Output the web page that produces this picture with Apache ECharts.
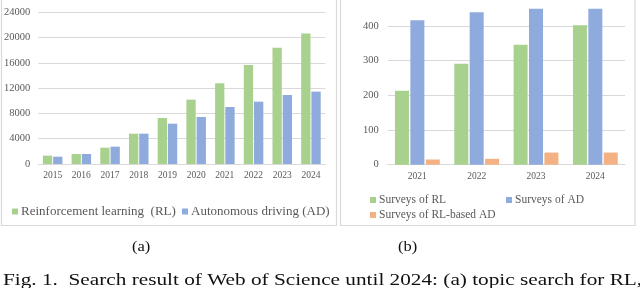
<!DOCTYPE html>
<html>
<head>
<meta charset="utf-8">
<script src="https://cdn.jsdelivr.net/npm/echarts@6/dist/echarts.min.js"></script>
<style>
html,body{margin:0;padding:0;background:#fff;}
#c{width:640px;height:288px;}
</style>
</head>
<body>
<div id="c"></div>
<script>
// Panel (a)
const yearsA = ['2015','2016','2017','2018','2019','2020','2021','2022','2023','2024'];
const rlPapers = [1320, 1580, 2580, 4800, 7280, 10180, 12770, 15670, 18410, 20630];
const adPapers = [1160, 1580, 2740, 4800, 6380, 7440, 9020, 9860, 10920, 11450];
// Panel (b)
const yearsB = ['2021','2022','2023','2024'];
const surveysRL = [213, 291, 346, 402];
const surveysAD = [417, 440, 450, 450];
const surveysRLAD = [15, 17, 35, 35];

const GREEN = '#a9d18e', BLUE = '#8faadc', ORANGE = '#f4b183';
const LBL = '#595959', GRID = '#d9d9d9';
const FONT = 'Liberation Serif';

const chart = echarts.init(document.getElementById('c'), null, {renderer: 'canvas'});

function legendAt(name, left, top, fs) {
  return {
    data: [{name: name, textStyle: {fontFamily: FONT, fontSize: fs, color: LBL}}],
    left: left, top: top, itemWidth: 6, itemHeight: 6, itemGap: 0,
    icon: 'rect', padding: 0,
    textStyle: {fontFamily: FONT, fontSize: fs, color: LBL, padding: [0, 0, 0, -2]},
    selectedMode: false
  };
}

chart.setOption({
  animation: false,
  textStyle: {fontFamily: FONT},
  grid: [
    {left: 38.3, right: 314.7, top: 12.3, bottom: 124},
    {left: 387.7, right: 15, top: 8.7, bottom: 123.3}
  ],
  xAxis: [
    {type: 'category', gridIndex: 0, data: yearsA,
     axisLine: {lineStyle: {color: GRID}}, axisTick: {show: false},
     axisLabel: {color: LBL, fontSize: 9.5, margin: 6, fontFamily: FONT}},
    {type: 'category', gridIndex: 1, data: yearsB,
     axisLine: {lineStyle: {color: GRID}}, axisTick: {show: false},
     axisLabel: {color: LBL, fontSize: 9.5, margin: 7, fontFamily: FONT}}
  ],
  yAxis: [
    {type: 'value', gridIndex: 0, min: 0, max: 24000, interval: 4000,
     axisLine: {show: false}, axisTick: {show: false},
     axisLabel: {color: LBL, fontSize: 10.5, margin: 8, fontFamily: FONT,
                 formatter: function (v) { return String(v); }},
     splitLine: {lineStyle: {color: GRID}}},
    {type: 'value', gridIndex: 1, min: 0, max: 450, interval: 100,
     axisLine: {show: false}, axisTick: {show: false},
     axisLabel: {color: LBL, fontSize: 10.5, margin: 9, fontFamily: FONT, showMaxLabel: false,
                 formatter: function (v) { return String(v); }},
     splitLine: {lineStyle: {color: [GRID, GRID, GRID, GRID, GRID, 'rgba(0,0,0,0)']}}}
  ],
  legend: [
    legendAt('Reinforcement learning  (RL)', 12, 205, 13),
    legendAt('Autonomous driving (AD)', 182, 205, 13),
    legendAt('Surveys of RL', 370, 194, 11.5),
    legendAt('Surveys of AD', 506, 194, 11.5),
    legendAt('Surveys of RL-based AD', 370, 209, 11.5)
  ],
  series: [
    {name: 'Reinforcement learning  (RL)', type: 'bar', xAxisIndex: 0, yAxisIndex: 0,
     data: rlPapers, barWidth: 9.3, barGap: '10%', itemStyle: {color: GREEN}},
    {name: 'Autonomous driving (AD)', type: 'bar', xAxisIndex: 0, yAxisIndex: 0,
     data: adPapers, barWidth: 9.3, barGap: '10%', itemStyle: {color: BLUE}},
    {name: 'Surveys of RL', type: 'bar', xAxisIndex: 1, yAxisIndex: 1,
     data: surveysRL, barWidth: 14, barGap: '10%', itemStyle: {color: GREEN}},
    {name: 'Surveys of AD', type: 'bar', xAxisIndex: 1, yAxisIndex: 1,
     data: surveysAD, barWidth: 14, barGap: '10%', itemStyle: {color: BLUE}},
    {name: 'Surveys of RL-based AD', type: 'bar', xAxisIndex: 1, yAxisIndex: 1,
     data: surveysRLAD, barWidth: 14, barGap: '10%', itemStyle: {color: ORANGE}}
  ],
  graphic: [
    {type: 'rect', shape: {x: 1.5, y: -2, width: 335, height: 227.5},
     style: {fill: 'none', stroke: '#d9d9d9', lineWidth: 1.2}, silent: true},
    {type: 'rect', shape: {x: 340.5, y: -2, width: 294.5, height: 227.5},
     style: {fill: 'none', stroke: '#d9d9d9', lineWidth: 1.2}, silent: true},
    {type: 'text', x: 132, y: 240, scaleX: 1.1,
     style: {text: '(a)', font: '15px "Liberation Serif", serif', fill: '#111'}},
    {type: 'text', x: 398, y: 240, scaleX: 1.1,
     style: {text: '(b)', font: '15px "Liberation Serif", serif', fill: '#111'}},
    {type: 'text', x: 3, y: 272, scaleX: 1.25,
     style: {text: 'Fig. 1.  Search result of Web of Science until 2024: (a) topic search for RL,', font: '17px "Liberation Serif", serif', fill: '#111'}}
  ]
});
</script>
</body>
</html>
